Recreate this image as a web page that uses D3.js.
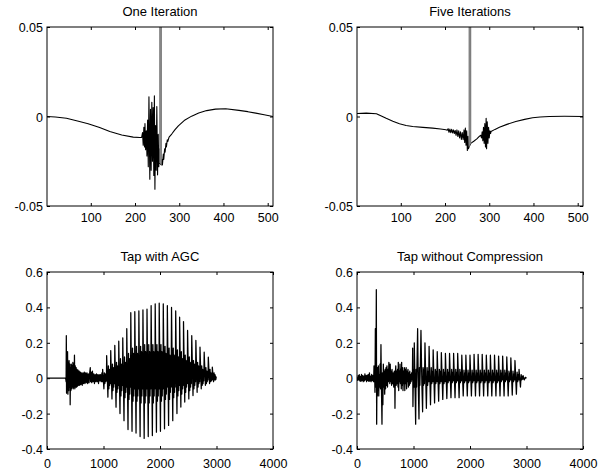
<!DOCTYPE html>
<html><head><meta charset="utf-8">
<script src="https://cdn.jsdelivr.net/npm/d3@7"></script>
<style>
body{margin:0;background:#fff}
svg{display:block}
text{font-family:Arial,"Liberation Sans",Helvetica,sans-serif;fill:#000}
</style>
</head><body>
<svg id="c" width="600" height="471"></svg>
<script>
// ---------------- DATA ----------------
const titles = ["One Iteration", "Five Iterations", "Tap with AGC", "Tap without Compression"];
const topXTicks = [100, 200, 300, 400, 500];
const topYTicks = [-0.05, 0, 0.05];
const topYLabels = ["-0.05", "0", "0.05"];
const botXTicks = [0, 1000, 2000, 3000, 4000];
const botXLabels = ["0", "1000", "2000", "3000", "4000"];
const botYTicks = [-0.4, -0.2, 0, 0.2, 0.4, 0.6];
const botYLabels = ["-0.4", "-0.2", "0", "0.2", "0.4", "0.6"];

// One Iteration: [sample, value]
const oneIteration = [
 [1,0],[20,-0.0003],[45,-0.001],[70,-0.0025],[94,-0.004],[120,-0.0062],[143,-0.0084],[170,-0.0103],[196,-0.0115],[211,-0.0117],
 [215,-0.0117],[217,-0.009],[218.5,-0.016],[220,-0.006],[221.5,-0.017],[222.5,-0.004],[224,-0.0186],[225.5,-0.008],[227,-0.022],
 [228.5,-0.002],[230,-0.028],[231.5,0.011],[233.5,-0.035],[235,0.004],[236.5,-0.03],[238,0.008],[239.5,-0.025],[241,0.005],
 [242.5,-0.033],[243.8,0.0115],[245,-0.0406],[246.5,-0.005],[248,-0.03],[249.3,0.0056],[251,-0.0326],[252.5,-0.01],
 [253.8,-0.028],[255,-0.018],[256,-0.026],
 [259.5,-0.027],[261,-0.024],[262,-0.027],[264,-0.021],[265,-0.024],[267,-0.018],[268,-0.02],[270,-0.015],[271,-0.017],
 [273,-0.013],[274,-0.014],[277,-0.0115],[283,-0.0098],[290,-0.0075],[298,-0.0052],[313,-0.0019],[328,0.0002],[344,0.0019],
 [362,0.0033],[382,0.0041],[405,0.0043],[435,0.0034],[455,0.0027],[473,0.0019],[492,0.001],[512,0]
];
const oneIterationSpike = [[256,-0.026],[256.8,1],[258.8,1],[259.5,-0.027]];

// Five Iterations
const fiveIterations = [
 [1,0.0017],[22,0.0019],[45,0.0015],[56,0.0003],[67,-0.001],[82,-0.0026],[97,-0.004],[112,-0.005],[127,-0.0056],
 [150,-0.0061],[172,-0.0065],[190,-0.007],[202,-0.0074],
 [205,-0.0077],[207,-0.0068],[209,-0.0088],[211,-0.007],[213,-0.009],[215,-0.0072],[217,-0.0092],[219,-0.0075],
 [221,-0.0095],[223,-0.0078],[225,-0.0105],[227,-0.0075],[229,-0.0112],[231,-0.008],[233,-0.012],[235,-0.0085],
 [237,-0.0128],[239,-0.009],[241,-0.013],[243,-0.0075],[244.5,-0.0145],[246,-0.0065],[247.5,-0.016],[249,-0.008],
 [250.5,-0.019],[252,-0.011],[253,-0.018],[254.5,-0.017],
 [258.2,-0.015],[265,-0.0138],[272,-0.0125],[278,-0.011],[281,-0.0105],
 [282.5,-0.012],[284,-0.0085],[285.5,-0.0135],[287,-0.006],[288.5,-0.015],[290,-0.004],[291.5,-0.017],[293,-0.001],
 [294,-0.018],[295.5,-0.003],[297,-0.015],[298.5,-0.006],[300,-0.012],[301.5,-0.008],[303,-0.0095],[304,-0.0084],
 [313,-0.0072],[323,-0.006],[340,-0.0044],[360,-0.0028],[380,-0.0016],[398,-0.0007],[415,-0.0003],[436,0],[470,0.0001],[512,0]
];
const fiveIterationsSpike = [[254.5,-0.017],[255.3,1],[257.5,1],[258.2,-0.015]];

// Tap with AGC
const agcLead = [
 [0,0],[330,0],[338,-0.02],[342,0.24],[346,-0.085],[352,0.11],[358,-0.06],[364,0.15],[370,-0.09],[377,0.09],[384,-0.07],
 [391,0.1],[398,-0.05],[405,0.08],[410,-0.15],[416,0.06],[423,-0.07],[430,0.08],[437,-0.06],[444,0.07],[451,-0.05],
 [458,0.09],[465,-0.06],[472,0.08],[479,-0.05],[486,0.13],[493,-0.06],[500,0.07],[508,-0.05],[516,0.06],[524,-0.05],
 [532,0.05],[540,-0.045],[550,0.045],[560,-0.04],[570,0.04],[580,-0.04],[590,0.035],[600,-0.035],[612,0.03],[624,-0.04],
 [636,0.03],[648,-0.03],[660,0.035],[672,-0.03],[684,0.03],[696,-0.025],[708,0.03],[720,-0.03],[732,0.025],[744,-0.025],
 [756,0.03],[766,0.06],[772,-0.02],[780,0.035],[792,-0.025],[804,0.04],[816,-0.02],[828,0.025],[840,-0.03],[852,0.02],
 [864,-0.02],[876,0.025],[888,-0.02],[900,0.02],[912,-0.03],[924,0.02],[936,-0.015],[948,0.02],[960,-0.02],[972,0.03],[980,-0.02]
];
// sample offsets of one AGC tap response: peak, trough, ring1..ring6
const agcOffsets = [0, 22, 31, 39, 47, 54, 61, 67];
// [sample, peak, trough, ring1..ring6]
const agcTaps = [
 [985,0.05,-0.06,0.03,-0.03,0.025,-0.02,0.02,-0.015],
 [1056,0.128,-0.107,0.07,-0.06,0.05,-0.04,0.04,-0.03],
 [1128,0.156,-0.117,0.08,-0.07,0.06,-0.05,0.05,-0.03],
 [1200,0.185,-0.164,0.09,-0.08,0.07,-0.06,0.05,-0.04],
 [1270,0.209,-0.2,0.11,-0.1,0.08,-0.07,0.06,-0.04],
 [1341,0.228,-0.24,0.12,-0.11,0.09,-0.08,0.07,-0.05],
 [1412,0.28,-0.29,0.14,-0.12,0.11,-0.09,0.08,-0.05],
 [1483,0.37,-0.30,0.17,-0.13,0.14,-0.1,0.1,-0.06],
 [1554,0.376,-0.31,0.18,-0.13,0.14,-0.1,0.1,-0.06],
 [1626,0.38,-0.33,0.18,-0.14,0.15,-0.1,0.1,-0.06],
 [1698,0.386,-0.34,0.19,-0.14,0.15,-0.1,0.1,-0.06],
 [1770,0.39,-0.33,0.19,-0.14,0.15,-0.1,0.1,-0.06],
 [1843,0.41,-0.324,0.19,-0.14,0.15,-0.1,0.1,-0.06],
 [1915,0.42,-0.305,0.19,-0.13,0.15,-0.1,0.1,-0.06],
 [1986,0.424,-0.3,0.19,-0.13,0.15,-0.1,0.1,-0.06],
 [2058,0.42,-0.286,0.18,-0.12,0.14,-0.09,0.1,-0.05],
 [2130,0.41,-0.267,0.17,-0.12,0.13,-0.08,0.09,-0.05],
 [2204,0.40,-0.24,0.17,-0.11,0.13,-0.08,0.09,-0.05],
 [2278,0.38,-0.2,0.16,-0.1,0.12,-0.07,0.08,-0.04],
 [2347,0.345,-0.163,0.15,-0.09,0.11,-0.06,0.07,-0.04],
 [2416,0.32,-0.135,0.13,-0.08,0.1,-0.05,0.06,-0.03],
 [2488,0.27,-0.117,0.12,-0.07,0.09,-0.05,0.05,-0.03],
 [2562,0.24,-0.098,0.1,-0.06,0.08,-0.04,0.05,-0.02],
 [2635,0.213,-0.08,0.09,-0.05,0.07,-0.03,0.04,-0.02],
 [2708,0.175,-0.06,0.07,-0.04,0.05,-0.03,0.03,-0.015],
 [2782,0.147,-0.04,0.06,-0.03,0.04,-0.02,0.03,-0.01],
 [2855,0.119,-0.03,0.05,-0.02,0.03,-0.015,0.02,-0.01],
 [2926,0.062,-0.02,0.03,-0.01,0.02,-0.01,0.01,-0.005]
];
const agcTail = [[2960,0.02],[2975,-0.01],[2990,0.005],[3000,0]];

// Tap without Compression
const ncLead = [
 [0,0.005],[10,-0.012],[20,0.015],[30,-0.01],[40,0.02],[50,-0.015],[60,0.01],[70,-0.018],[80,0.022],[90,-0.012],
 [100,0.015],[110,-0.02],[120,0.012],[130,-0.015],[140,0.025],[150,-0.01],[160,0.015],[170,-0.02],[180,0.018],
 [190,-0.012],[200,0.02],[210,-0.018],[220,0.03],[230,-0.015],[240,0.012],[250,-0.02],[260,0.022],[270,-0.012],
 [280,0.015],[290,-0.02],[296,0.01],[301,0.07],[306,-0.02],[312,0.03],[318,-0.08],[325,0.28],[330,-0.05],[336,0.05],
 [342,0.5],[348,-0.26],[354,0.02],[360,-0.1],[366,0.06],[372,-0.05],[378,0.07],[385,-0.1],[392,0.02],[400,-0.05],
 [408,0.08],[416,-0.06],[424,0.19],[432,-0.04],[442,-0.26],[450,0.03],[458,-0.15],[466,0.08],[474,-0.05],[482,0.04],
 [490,-0.09],[498,0.05],[506,-0.06],[514,0.06],[522,-0.04],[530,0.07],[540,-0.05],[548,0.05],[556,-0.02],[564,0.09],
 [572,0.06],[580,-0.03],[588,0.08],[596,-0.02],[604,0.04],[612,-0.04],[620,0.05],[630,-0.03],[640,0.03],[650,-0.05],
 [660,0.04],[668,-0.02],[672,-0.17],[678,0.02],[686,0.07],[694,-0.04],[702,0.04],[710,-0.03],[718,0.05],[726,-0.05],
 [731,0.09],[738,-0.07],[746,0.04],[754,-0.02],[761,0.08],[768,-0.03],[776,0.05],[784,-0.06],[790,0.09],[798,-0.04],
 [806,0.06],[814,-0.07],[822,0.04],[830,-0.03],[838,0.06],[846,-0.07],[854,0.05],[862,-0.03],[870,0.06],[878,-0.06],
 [886,0.04],[894,-0.02],[902,0.05],[910,-0.05],[918,0.03],[926,-0.04],[934,0.04],[942,-0.03],[950,0.02],[958,-0.02],
 [966,0.03],[975,-0.01],[980,0.0],[985,0.17],[990,-0.16],[1000,0.05],[1008,-0.05],[1014,0.2],[1030,-0.1],[1038,-0.26],
 [1046,0.05],[1054,-0.05],[1062,0.08],[1073,0.28],[1085,-0.05],[1097,-0.23],[1105,0.06],[1113,-0.04],[1121,0.07],
 [1132,0.27],[1148,-0.03],[1161,-0.19],[1170,0.06],[1178,-0.04],[1186,0.05],[1194,-0.03]
];
// sample offsets of one tap response: peak, trough, ring1..ring4
const ncOffsets = [0, 25, 38, 48, 58, 66];
const ncTaps = [
 [1203,0.2,-0.17,0.06,-0.04,0.04,-0.02],
 [1276,0.18,-0.15,0.06,-0.03,0.04,-0.02],
 [1348,0.16,-0.14,0.05,-0.03,0.04,-0.02],
 [1420,0.15,-0.13,0.05,-0.03,0.04,-0.02],
 [1493,0.145,-0.12,0.05,-0.03,0.035,-0.02],
 [1565,0.14,-0.115,0.05,-0.025,0.035,-0.015],
 [1638,0.14,-0.11,0.05,-0.025,0.035,-0.015],
 [1710,0.14,-0.11,0.05,-0.025,0.035,-0.015],
 [1782,0.14,-0.11,0.05,-0.025,0.035,-0.015],
 [1855,0.13,-0.1,0.045,-0.025,0.03,-0.015],
 [1927,0.13,-0.1,0.045,-0.025,0.03,-0.015],
 [2000,0.13,-0.1,0.045,-0.025,0.03,-0.015],
 [2072,0.135,-0.1,0.045,-0.025,0.03,-0.015],
 [2144,0.135,-0.1,0.045,-0.025,0.03,-0.015],
 [2216,0.135,-0.1,0.045,-0.025,0.03,-0.015],
 [2289,0.13,-0.1,0.045,-0.025,0.03,-0.015],
 [2361,0.13,-0.1,0.045,-0.025,0.03,-0.015],
 [2434,0.13,-0.1,0.045,-0.025,0.03,-0.015],
 [2506,0.125,-0.1,0.045,-0.02,0.03,-0.01],
 [2578,0.125,-0.1,0.045,-0.02,0.03,-0.01],
 [2651,0.12,-0.1,0.04,-0.02,0.03,-0.01],
 [2723,0.115,-0.095,0.04,-0.02,0.025,-0.01],
 [2796,0.10,-0.09,0.035,-0.02,0.02,-0.01],
 [2868,0.05,-0.05,0.02,-0.01,0.01,-0.005]
];
const ncTail = [[2940,0.015],[2960,-0.01],[2980,0.005],[3000,0]];

// ---------------- DRAW ----------------
function expandTaps(taps, offsets) {
  const pts = [];
  taps.forEach(t => offsets.forEach((o, i) => pts.push([t[0] + o, t[i + 1]])));
  return pts;
}
const agcSeries = agcLead.concat(expandTaps(agcTaps, agcOffsets), agcTail);
const ncSeries = ncLead.concat(expandTaps(ncTaps, ncOffsets), ncTail);

const svg = d3.select("#c");
const panels = [
  {title: titles[0], left: 47, top: 27, w: 226, h: 179, xd: [1, 512], yd: [-0.05, 0.05], xt: topXTicks, xl: topXTicks.map(String), yt: topYTicks, yl: topYLabels, series: oneIteration, spike: oneIterationSpike, sw: 1.1},
  {title: titles[1], left: 357, top: 27, w: 226, h: 179, xd: [1, 512], yd: [-0.05, 0.05], xt: topXTicks, xl: topXTicks.map(String), yt: topYTicks, yl: topYLabels, series: fiveIterations, spike: fiveIterationsSpike, sw: 1.1},
  {title: titles[2], left: 47, top: 272, w: 226, h: 177, xd: [0, 4000], yd: [-0.4, 0.6], xt: botXTicks, xl: botXLabels, yt: botYTicks, yl: botYLabels, series: agcSeries, sw: 1.25},
  {title: titles[3], left: 357, top: 272, w: 226, h: 177, xd: [0, 4000], yd: [-0.4, 0.6], xt: botXTicks, xl: botXLabels, yt: botYTicks, yl: botYLabels, series: ncSeries, sw: 1.25}
];

panels.forEach((p, pi) => {
  const g = svg.append("g").attr("transform", `translate(${p.left},${p.top})`);
  const x = d3.scaleLinear().domain(p.xd).range([0, p.w]);
  const y = d3.scaleLinear().domain(p.yd).range([p.h, 0]);
  const clipId = "clip" + pi;
  g.append("clipPath").attr("id", clipId).append("rect").attr("width", p.w).attr("height", p.h);

  const line = d3.line().x(d => x(d[0])).y(d => y(d[1]));
  const plot = g.append("g").attr("clip-path", `url(#${clipId})`);
  plot.append("path").datum(p.series).attr("d", line)
    .attr("fill", "none").attr("stroke", "#000").attr("stroke-width", p.sw).attr("stroke-linejoin", "round");
  if (p.spike) {
    plot.append("path").datum(p.spike).attr("d", line)
      .attr("fill", "#9a9a9a").attr("stroke", "#6e6e6e").attr("stroke-width", 1);
  }

  // inside ticks on all four sides
  const tk = 3;
  g.append("g").attr("transform", `translate(0,${p.h})`).call(d3.axisBottom(x).tickValues(p.xt).tickSize(-tk).tickFormat(""))
    .call(a => a.select(".domain").remove());
  g.append("g").call(d3.axisTop(x).tickValues(p.xt).tickSize(-tk).tickFormat(""))
    .call(a => a.select(".domain").remove());
  g.append("g").call(d3.axisLeft(y).tickValues(p.yt).tickSize(-tk).tickFormat(""))
    .call(a => a.select(".domain").remove());
  g.append("g").attr("transform", `translate(${p.w},0)`).call(d3.axisRight(y).tickValues(p.yt).tickSize(-tk).tickFormat(""))
    .call(a => a.select(".domain").remove());

  // tick labels
  const xa = g.append("g").attr("transform", `translate(0,${p.h})`)
    .call(d3.axisBottom(x).tickValues(p.xt).tickSize(0).tickFormat((d, i) => p.xl[i]));
  xa.select(".domain").remove();
  xa.selectAll("text").attr("y", pi < 2 ? 16 : 18.5).attr("dy", null).attr("font-size", 12.5).attr("font-family", null);
  const ya = g.append("g")
    .call(d3.axisLeft(y).tickValues(p.yt).tickSize(0).tickFormat((d, i) => p.yl[i]));
  ya.select(".domain").remove();
  ya.selectAll("text").attr("x", -4).attr("dy", "0.36em").attr("font-size", 12.5).attr("font-family", null);

  // box
  g.append("rect").attr("width", p.w).attr("height", p.h).attr("fill", "none").attr("stroke", "#000").attr("stroke-width", 1);

  // title
  g.append("text").attr("x", p.w / 2).attr("y", -11).attr("text-anchor", "middle")
    .attr("font-size", 13).text(p.title);
});
svg.selectAll(".tick line").attr("stroke", "#000");
</script>
</body></html>
